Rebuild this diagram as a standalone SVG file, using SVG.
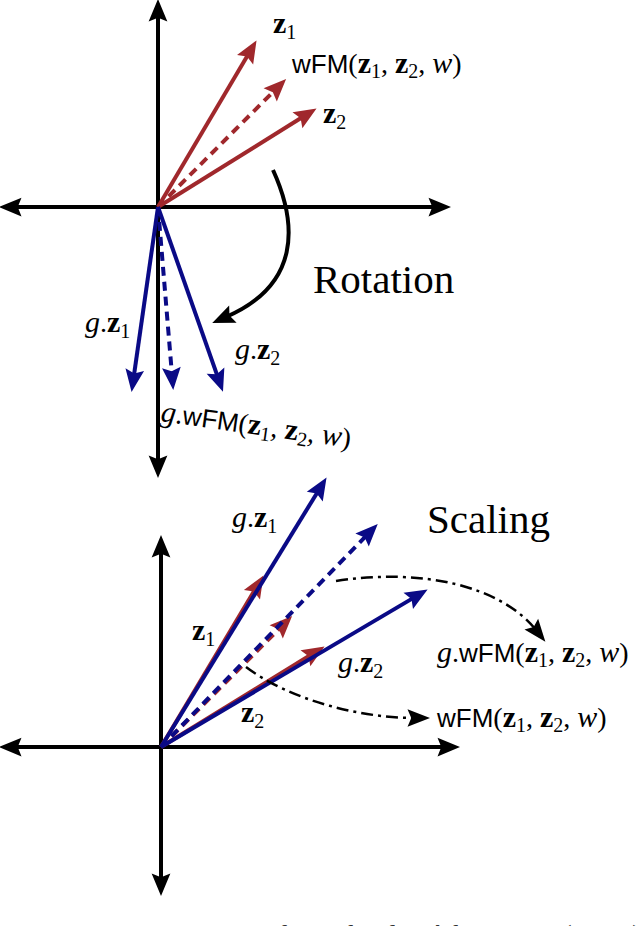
<svg xmlns="http://www.w3.org/2000/svg" width="640" height="926" viewBox="0 0 640 926">
<defs>
<style>
.ax{stroke:#000;stroke-width:4;fill:none;marker-end:url(#ak);marker-start:url(#ak)}
.r{stroke:#a0282c;stroke-width:4;fill:none;marker-end:url(#ar)}
.b{stroke:#0a0a86;stroke-width:4;fill:none;marker-end:url(#ab)}
.d{stroke-dasharray:9 6}
.dd{stroke:#000;stroke-width:2.5;fill:none;stroke-dasharray:12 5 3 5;marker-end:url(#ak2)}
.arc{stroke:#000;stroke-width:4;fill:none;marker-end:url(#ak)}
text{font-family:"Liberation Serif","DejaVu Serif",serif;font-size:28px;fill:#000}
.bz{font-weight:bold;font-size:30px}
.sub{font-size:20px}
.it{font-style:italic;font-size:30px}
.sf{font-family:"Liberation Sans","DejaVu Sans",sans-serif;font-size:26px}
.big{font-size:41px}
.cap{font-size:28px;fill:#333}
</style>
<marker id="ak" markerUnits="userSpaceOnUse" markerWidth="30" markerHeight="30" refX="6" refY="0" viewBox="-2 -10 24 20" orient="auto-start-reverse" overflow="visible"><path d="M0,-7.5 L18,0 L0,7.5 L3,0 Z" fill="#000"/></marker>
<marker id="ak2" markerUnits="userSpaceOnUse" markerWidth="30" markerHeight="30" refX="6" refY="0" viewBox="-2 -10 24 20" orient="auto" overflow="visible"><path d="M0,-7 L18,0 L0,7 L3,0 Z" fill="#000"/></marker>
<marker id="ar" markerUnits="userSpaceOnUse" markerWidth="30" markerHeight="30" refX="6" refY="0" viewBox="-2 -10 24 20" orient="auto" overflow="visible"><path d="M0,-7.5 L18,0 L0,7.5 L3,0 Z" fill="#a0282c"/></marker>
<marker id="ab" markerUnits="userSpaceOnUse" markerWidth="30" markerHeight="30" refX="6" refY="0" viewBox="-2 -10 24 20" orient="auto" overflow="visible"><path d="M0,-7.5 L18,0 L0,7.5 L3,0 Z" fill="#0a0a86"/></marker>
</defs>
<rect width="640" height="926" fill="#fff"/>

<g id="connectors">
  <line id="top-yaxis" class="ax" x1="158" y1="463" x2="158" y2="14"/>
  <line id="top-xaxis" class="ax" x1="14" y1="207" x2="436" y2="207"/>
  <line class="r" x1="158" y1="207" x2="248.9" y2="53.3"/>
  <line class="r d" x1="158" y1="207" x2="275.5" y2="89.5"/>
  <line class="r" x1="158" y1="207" x2="303.8" y2="116.3"/>
  <line class="b" x1="158" y1="207" x2="133.7" y2="377.1"/>
  <line class="b d" x1="158" y1="207" x2="172" y2="375"/>
  <line class="b" x1="158" y1="207" x2="218" y2="377.7"/>
  <path class="arc" d="M273,170 C298,225 300,285 226,317"/>

  <line id="bot-yaxis" class="ax" x1="161" y1="881" x2="161" y2="550"/>
  <line id="bot-xaxis" class="ax" x1="14" y1="747" x2="445" y2="747"/>
  <line class="r" x1="161" y1="747" x2="255.8" y2="588.3"/>
  <line class="r d" x1="161" y1="747" x2="281.5" y2="626.5"/>
  <line class="r" x1="161" y1="747" x2="311.8" y2="654.3"/>
  <line class="b" x1="161" y1="747" x2="318.7" y2="490.2"/>
  <line class="b d" x1="161" y1="747" x2="367.3" y2="534.7"/>
  <line class="b" x1="161" y1="747" x2="414.7" y2="597.1"/>
  <path class="dd" d="M336,581 C420,568 500,585 536,630"/>
  <path class="dd" d="M246,667 C290,700 360,718 415,718"/>
</g>

<g id="top-labels">
  <g id="lbl-z1-top"><text x="273" y="33"><tspan class="bz">z</tspan><tspan class="sub" dy="6">1</tspan></text></g>
  <g id="lbl-wfm-top"><text x="292" y="73"><tspan class="sf">wFM</tspan>(<tspan class="bz">z</tspan><tspan class="sub" dy="5">1</tspan><tspan dy="-5">, </tspan><tspan class="bz">z</tspan><tspan class="sub" dy="5">2</tspan><tspan dy="-5">, </tspan><tspan class="it">w</tspan>)</text></g>
  <g id="lbl-z2-top"><text x="323" y="123"><tspan class="bz">z</tspan><tspan class="sub" dy="6">2</tspan></text></g>
  <g id="lbl-gz1-top"><text x="85" y="332"><tspan class="it">g</tspan>.<tspan class="bz">z</tspan><tspan class="sub" dy="6">1</tspan></text></g>
  <g id="lbl-gz2-top"><text x="235" y="359"><tspan class="it">g</tspan>.<tspan class="bz">z</tspan><tspan class="sub" dy="6">2</tspan></text></g>
  <g id="lbl-gwfm-top"><text x="160" y="421" transform="rotate(8 160 421)"><tspan class="it">g</tspan>.<tspan class="sf">wFM</tspan>(<tspan class="bz">z</tspan><tspan class="sub" dy="5">1</tspan><tspan dy="-5">, </tspan><tspan class="bz">z</tspan><tspan class="sub" dy="5">2</tspan><tspan dy="-5">, </tspan><tspan class="it">w</tspan>)</text></g>
  <g id="lbl-rotation"><text class="big" x="313" y="293">Rotation</text></g>
</g>

<g id="bottom-labels">
  <g id="lbl-gz1-bot"><text x="232" y="527"><tspan class="it">g</tspan>.<tspan class="bz">z</tspan><tspan class="sub" dy="6">1</tspan></text></g>
  <g id="lbl-scaling"><text class="big" x="427" y="533">Scaling</text></g>
  <g id="lbl-z1-bot"><text x="192" y="640"><tspan class="bz">z</tspan><tspan class="sub" dy="6">1</tspan></text></g>
  <g id="lbl-gz2-bot"><text x="338" y="672"><tspan class="it">g</tspan>.<tspan class="bz">z</tspan><tspan class="sub" dy="6">2</tspan></text></g>
  <g id="lbl-z2-bot"><text x="241" y="722"><tspan class="bz">z</tspan><tspan class="sub" dy="6">2</tspan></text></g>
  <g id="lbl-gwfm-bot"><text x="437" y="662"><tspan class="it">g</tspan>.<tspan class="sf">wFM</tspan>(<tspan class="bz">z</tspan><tspan class="sub" dy="5">1</tspan><tspan dy="-5">, </tspan><tspan class="bz">z</tspan><tspan class="sub" dy="5">2</tspan><tspan dy="-5">, </tspan><tspan class="it">w</tspan>)</text></g>
  <g id="lbl-wfm-bot"><text x="437" y="727"><tspan class="sf">wFM</tspan>(<tspan class="bz">z</tspan><tspan class="sub" dy="5">1</tspan><tspan dy="-5">, </tspan><tspan class="bz">z</tspan><tspan class="sub" dy="5">2</tspan><tspan dy="-5">, </tspan><tspan class="it">w</tspan>)</text></g>
</g>

<g id="caption"><text class="cap" x="0" y="944">Figure 1: Equivariance of weighted Fréchet mean (wFM)</text></g>
</svg>
